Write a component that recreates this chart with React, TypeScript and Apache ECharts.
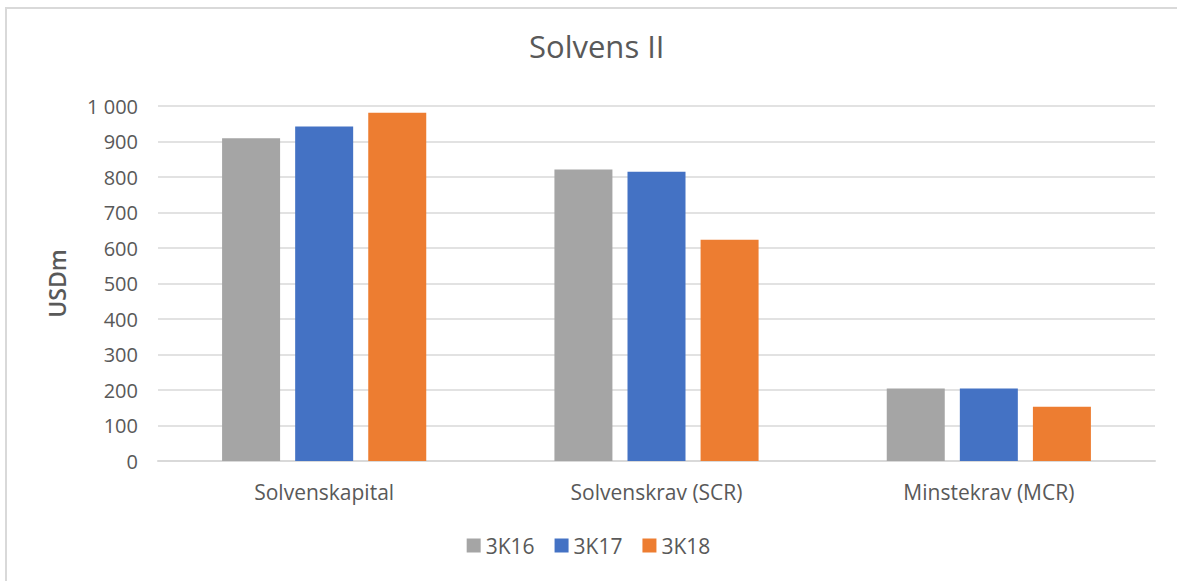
import React, { useEffect, useRef } from "react";
import * as echarts from "echarts";

const categories = ["Solvenskapital", "Solvenskrav (SCR)", "Minstekrav (MCR)"];
const seriesNames = ["3K16", "3K17", "3K18"];
const values3K16 = [909, 821, 204];
const values3K17 = [942, 815, 204];
const values3K18 = [981, 623, 153];
const colors = ["#a5a5a5", "#4472c4", "#ed7d31"];

const FONT = "'Open Sans', 'Noto Sans', sans-serif";
const TEXT = "#595959";

function fmt(v: number): string {
  return String(v).replace(/\B(?=(\d{3})+(?!\d))/g, " ");
}

export default function App() {
  const ref = useRef<HTMLDivElement>(null);
  useEffect(() => {
    if (!ref.current) return;
    const chart = echarts.init(ref.current, undefined, { renderer: "svg" });
    const data = [values3K16, values3K17, values3K18];
    chart.setOption({
      animation: false,
      backgroundColor: "#ffffff",
      textStyle: { fontFamily: FONT },
      title: {
        text: "Solvens II",
        left: 524,
        top: 25,
        textStyle: { fontFamily: FONT, fontSize: 31, fontWeight: "normal", color: TEXT },
      },
      legend: {
        data: seriesNames,
        bottom: 20,
        left: "center",
        itemWidth: 14,
        itemHeight: 14,
        itemGap: 20,
        icon: "rect",
        textStyle: { fontFamily: FONT, fontSize: 21, color: TEXT },
      },
      grid: { left: 158, right: 22, top: 106, bottom: 120, containLabel: false },
      xAxis: {
        type: "category",
        data: categories,
        axisLine: { lineStyle: { color: "#d9d9d9", width: 2 } },
        axisTick: { show: false },
        axisLabel: { fontFamily: FONT, fontSize: 21, color: TEXT, margin: 20 },
      },
      yAxis: {
        type: "value",
        min: 0,
        max: 1000,
        interval: 100,
        name: "USDm",
        nameLocation: "middle",
        nameGap: 90,
        nameTextStyle: { fontFamily: FONT, fontSize: 23, fontWeight: 600, color: TEXT },
        axisLine: { show: false },
        axisTick: { show: false },
        splitLine: { lineStyle: { color: "#d9d9d9", width: 1.5 } },
        axisLabel: {
          fontFamily: FONT,
          fontSize: 20,
          color: TEXT,
          margin: 20,
          formatter: (v: number) => fmt(v),
        },
      },
      series: seriesNames.map((name, i) => ({
        name,
        type: "bar",
        data: data[i],
        barWidth: 58,
        barGap: "26%",
        itemStyle: { color: colors[i] },
      })),
      graphic: [
        {
          type: "rect",
          shape: { x: 6, y: 8, width: 1300, height: 700 },
          style: { fill: "none", stroke: "#d9d9d9", lineWidth: 2 },
          silent: true,
        },
      ],
    });
    return () => chart.dispose();
  }, []);
  return (
    <div
      ref={ref}
      style={{ position: "fixed", left: 0, top: 0, width: 1177, height: 581 }}
    />
  );
}
